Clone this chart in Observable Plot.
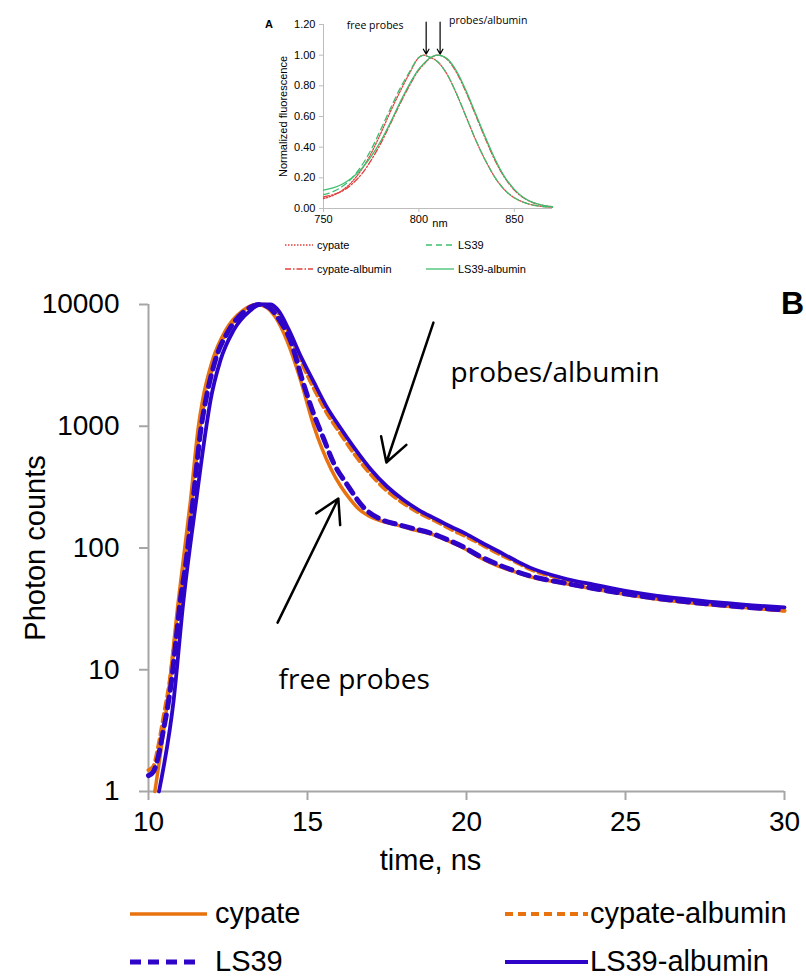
<!DOCTYPE html>
<html>
<head>
<meta charset="utf-8">
<script src="https://cdn.jsdelivr.net/npm/d3@7"></script>
<script src="https://cdn.jsdelivr.net/npm/@observablehq/plot@0.6"></script>
<style>
  body { margin: 0; background: #fff; }
  #wrap { position: relative; width: 806px; height: 977px; overflow: hidden; background: #fff; }
  #wrap > * { position: absolute; }
</style>
</head>
<body>
<div id="wrap"></div>
<script>
// ---------------- Panel B data (time, ns ; photon counts) ----------------
const timeTicks = [10, 15, 20, 25, 30];
const countTicks = [1, 10, 100, 1000, 10000];
const seriesNames = ["cypate", "cypate-albumin", "LS39", "LS39-albumin"];

const cypateT = [10.2, 10.6, 10.94, 11.32, 11.57, 11.7, 12.01, 12.42, 12.96, 13.4, 13.7, 14.0, 14.36, 14.78, 15.2, 15.45, 15.75, 16.05, 16.35, 16.6, 16.9, 17.3, 17.8, 18.3, 18.9, 19.4, 19.9, 20.4, 21.0, 21.5, 22.0, 23.0, 24.0, 25.0, 26.0, 27.0, 28.0, 29.0, 30.0];
const cypateC = [1, 5.6, 37, 245, 1000, 1630, 3470, 6100, 8900, 10000, 9500, 7800, 5000, 2400, 1000, 660, 440, 320, 250, 210, 185, 167, 155, 142, 130, 115, 100, 84, 71, 64, 58, 51.5, 46, 41.5, 38, 35.5, 33.5, 32, 30.5];

const cypAlbT = [10.0, 10.15, 10.3, 10.5, 10.65, 10.97, 11.36, 11.62, 11.76, 12.07, 12.48, 13.02, 13.45, 13.75, 14.1, 14.4, 14.8, 15.2, 15.6, 16.0, 16.5, 17.0, 17.5, 18.0, 18.5, 19.0, 19.5, 20.0, 20.5, 21.0, 21.5, 22.0, 23.0, 24.0, 25.0, 26.0, 27.0, 28.0, 29.0, 30.0];
const cypAlbC = [1.5, 1.6, 2.3, 4.5, 7.5, 37, 245, 1000, 1630, 3470, 6100, 8900, 10000, 9900, 8400, 6000, 3400, 2050, 1300, 900, 580, 400, 295, 235, 195, 168, 143, 124, 106, 90, 78, 67, 56, 49, 43.5, 40, 37, 34.5, 32.5, 30.5];

const ls39T = [10.0, 10.15, 10.3, 10.45, 10.6, 10.72, 10.86, 11.0, 11.16, 11.4, 11.66, 11.8, 12.1, 12.52, 13.05, 13.5, 13.8, 14.1, 14.47, 14.87, 15.2, 15.5, 15.82, 16.25, 16.76, 17.3, 17.8, 18.3, 18.9, 19.4, 19.9, 20.4, 21.0, 21.5, 22.0, 23.0, 24.0, 25.0, 26.0, 27.0, 28.0, 29.0, 30.0];
const ls39C = [1.35, 1.45, 1.9, 3, 4.9, 8, 17, 37, 70, 245, 1000, 1630, 3470, 6100, 8900, 10000, 9400, 7600, 5000, 2250, 1250, 800, 500, 330, 216, 172, 157, 145, 132, 117, 102, 86, 73, 65, 59, 52, 46.5, 42, 38.5, 36, 34, 32.3, 31];

const ls39AlbT = [10.33, 10.79, 11.1, 11.5, 11.82, 11.95, 12.26, 12.67, 13.2, 13.5, 13.85, 14.1, 14.4, 14.8, 15.2, 15.6, 16.0, 16.5, 17.0, 17.5, 18.0, 18.5, 19.0, 19.5, 20.0, 20.5, 21.0, 21.5, 22.0, 23.0, 24.0, 25.0, 26.0, 27.0, 28.0, 29.0, 30.0];
const ls39AlbC = [1, 5.6, 37, 245, 1000, 1630, 3470, 6100, 8900, 10000, 10000, 8800, 6300, 3700, 2300, 1450, 1000, 650, 440, 320, 250, 205, 175, 150, 130, 110, 94, 80, 69, 57, 50, 44.5, 40.5, 37.8, 35.5, 33.8, 32.5];

// annotations (data coordinates)
const annLabels = ["probes/albumin", "free probes"];
const annLabelT = [19.5, 14.09];
const annLabelC = [2760, 8.2];
const arrowT1 = [18.96, 14.06];
const arrowC1 = [7100, 24.4];
const arrowT2 = [17.48, 15.97];
const arrowC2 = [504, 255];

// ---------------- Panel A data (nm ; normalized fluorescence) ----------------
const nmTicks = [750, 800, 850];
const fluoTicks = [0, 0.2, 0.4, 0.6, 0.8, 1.0, 1.2];
const nm = [750, 755, 760, 765, 770, 775, 780, 785, 790, 795, 800, 802.5, 805, 810, 815, 820, 825, 830, 835, 840, 845, 850, 855, 860, 865, 870];
const specCypate    = [0.065, 0.085, 0.12, 0.175, 0.255, 0.36, 0.49, 0.63, 0.76, 0.88, 0.985, 1.0, 0.99, 0.955, 0.87, 0.74, 0.59, 0.44, 0.31, 0.20, 0.12, 0.07, 0.04, 0.022, 0.013, 0.008];
const specLS39      = [0.09, 0.11, 0.145, 0.20, 0.28, 0.385, 0.515, 0.65, 0.78, 0.89, 0.985, 1.0, 0.99, 0.955, 0.87, 0.74, 0.59, 0.44, 0.31, 0.20, 0.12, 0.07, 0.04, 0.022, 0.013, 0.008];
const specCypAlb    = [0.075, 0.09, 0.115, 0.16, 0.225, 0.315, 0.425, 0.55, 0.68, 0.80, 0.905, 0.94, 0.972, 1.0, 0.97, 0.88, 0.75, 0.60, 0.45, 0.31, 0.20, 0.12, 0.068, 0.037, 0.02, 0.011];
const specLS39Alb   = [0.12, 0.135, 0.16, 0.20, 0.26, 0.34, 0.44, 0.56, 0.69, 0.81, 0.91, 0.945, 0.975, 1.0, 0.975, 0.89, 0.76, 0.61, 0.46, 0.32, 0.205, 0.125, 0.07, 0.038, 0.021, 0.012];
const insetLabels = ["free probes", "probes/albumin"];
const insetLabelNm = [762.2, 815.8];
const insetLabelV = [1.19, 1.228];
const insetArrowNm = [803.8, 811.1];
const insetArrowV1 = [1.215, 1.215];
const insetArrowV2 = [1.007, 1.007];

// ---------------- styles ----------------
const ORANGE = "#E8720E", BLUE = "#2E05C8", GRAY = "#A6A6A6";
const RED = "#E2403E", GREEN = "#3DBE6E", LGRAY = "#BDBDBD";
const SANS = '"Liberation Sans", Arial, sans-serif';
const CAL = '"Open Sans", "Noto Sans", sans-serif';

const mainSeries = [
  {t: cypateT, c: cypateC, stroke: ORANGE, w: 3.5, dash: null},
  {t: cypAlbT, c: cypAlbC, stroke: ORANGE, w: 4, dash: "8,5"},
  {t: ls39T, c: ls39C, stroke: BLUE, w: 5, dash: "11,7"},
  {t: ls39AlbT, c: ls39AlbC, stroke: BLUE, w: 3.8, dash: null}
];

const wrap = document.getElementById("wrap");

const mainPlot = Plot.plot({
  width: 806, height: 610,
  marginLeft: 148, marginRight: 22, marginTop: 24, marginBottom: 99,
  x: {domain: [10, 30]},
  y: {type: "log", domain: [1, 10000]},
  style: {fontFamily: SANS, color: "black", background: "white", overflow: "visible"},
  marks: [
    Plot.ruleX([10], {stroke: GRAY, strokeWidth: 2}),
    Plot.ruleY([1], {stroke: GRAY, strokeWidth: 2}),
    Plot.axisY({ticks: countTicks, tickFormat: d => String(d), tickSize: 9, tickPadding: 20, stroke: GRAY, strokeWidth: 2, fill: "black", fontSize: 28, label: null}),
    Plot.axisX({ticks: timeTicks, tickFormat: d => String(d), tickSize: 9, tickPadding: 11, stroke: GRAY, strokeWidth: 2, fill: "black", fontSize: 28, label: null}),
    ...mainSeries.map(s => Plot.line(s.t.map((t, i) => ({t, c: s.c[i]})), {
      x: "t", y: "c", stroke: s.stroke, strokeWidth: s.w, strokeDasharray: s.dash, curve: "monotone-x"
    })),
    Plot.arrow(arrowT1, {x1: arrowT1, y1: arrowC1, x2: arrowT2, y2: arrowC2, stroke: "black", strokeWidth: 2.5, headLength: 16}),
    Plot.text(annLabels, {x: annLabelT, y: annLabelC, textAnchor: "start", fontFamily: CAL, fontSize: 28, fill: "black"}),
    Plot.text(["Photon counts"], {frameAnchor: "left", rotate: -90, dx: -113, textAnchor: "middle", fontSize: 29, fill: "black"}),
    Plot.text(["time, ns"], {frameAnchor: "bottom", dx: -36, dy: 78, textAnchor: "middle", fontSize: 29, fill: "black"})
  ]
});
mainPlot.style.left = "0px";
mainPlot.style.top = "280px";
wrap.appendChild(mainPlot);

const insetSeries = [
  {v: specCypate, stroke: RED, w: 1.3, dash: "1.5,1.5"},
  {v: specCypAlb, stroke: RED, w: 1.3, dash: "6,2,1.5,2"},
  {v: specLS39, stroke: GREEN, w: 1.3, dash: "6,4"},
  {v: specLS39Alb, stroke: GREEN, w: 1.3, dash: null}
];

const insetPlot = Plot.plot({
  width: 320, height: 235,
  marginLeft: 73, marginRight: 18, marginTop: 24, marginBottom: 27,
  x: {domain: [750, 870]},
  y: {domain: [0, 1.2]},
  style: {fontFamily: SANS, color: "black", background: "transparent", overflow: "visible"},
  marks: [
    Plot.ruleX([750], {stroke: LGRAY, strokeWidth: 1}),
    Plot.ruleY([0], {stroke: LGRAY, strokeWidth: 1}),
    Plot.axisY({ticks: fluoTicks, tickFormat: d => d.toFixed(2), tickSize: 4, tickPadding: 4, stroke: LGRAY, fill: "black", fontSize: 11, label: null}),
    Plot.axisX({ticks: nmTicks, tickFormat: d => String(d), tickSize: 4, tickPadding: 3, stroke: LGRAY, fill: "black", fontSize: 11, label: null}),
    ...insetSeries.map(s => Plot.line(nm.map((n, i) => ({n, v: s.v[i]})), {
      x: "n", y: "v", stroke: s.stroke, strokeWidth: s.w, strokeDasharray: s.dash, curve: "monotone-x"
    })),
    Plot.arrow(insetArrowNm, {x1: insetArrowNm, y1: insetArrowV1, x2: insetArrowNm, y2: insetArrowV2, stroke: "black", strokeWidth: 1.2, headLength: 7}),
    Plot.text(insetLabels, {x: insetLabelNm, y: insetLabelV, textAnchor: "start", fontFamily: CAL, fontSize: 10.5, fill: "black"}),
    Plot.text(["Normalized fluorescence"], {frameAnchor: "left", rotate: -90, dx: -40, textAnchor: "middle", fontSize: 11, fill: "black"}),
    Plot.text(["nm"], {frameAnchor: "bottom", dx: 2, dy: 18, textAnchor: "middle", fontSize: 11, fill: "black"})
  ]
});
insetPlot.style.left = "250px";
insetPlot.style.top = "0px";
wrap.appendChild(insetPlot);

// ---------------- overlay: panel letters + legends ----------------
const ov = d3.create("svg").attr("width", 806).attr("height", 977)
  .style("left", "0px").style("top", "0px").style("pointer-events", "none")
  .attr("font-family", SANS);

ov.append("text").attr("x", 265).attr("y", 28).attr("font-size", 11).attr("font-weight", "bold").text("A");
ov.append("text").attr("x", 781).attr("y", 314).attr("font-size", 32).attr("font-weight", "bold").text("B");

// inset legend
const insetLegend = [
  {x: 285, y: 245, label: "cypate", s: insetSeries[0]},
  {x: 426, y: 245, label: "LS39", s: insetSeries[2]},
  {x: 285, y: 269, label: "cypate-albumin", s: insetSeries[1]},
  {x: 426, y: 269, label: "LS39-albumin", s: insetSeries[3]}
];
insetLegend.forEach(d => {
  ov.append("line").attr("x1", d.x).attr("x2", d.x + 28).attr("y1", d.y).attr("y2", d.y)
    .attr("stroke", d.s.stroke).attr("stroke-width", d.s.w).attr("stroke-dasharray", d.s.dash);
  ov.append("text").attr("x", d.x + 32).attr("y", d.y + 4).attr("font-size", 11).text(d.label);
});

// main legend
const mainLegend = [
  {x: 130, len: 77, y: 914, label: "cypate", s: mainSeries[0]},
  {x: 505, len: 83, y: 914, label: "cypate-albumin", s: mainSeries[1]},
  {x: 130, len: 67, y: 962, label: "LS39", s: mainSeries[2]},
  {x: 505, len: 83, y: 962, label: "LS39-albumin", s: mainSeries[3]}
];
mainLegend.forEach(d => {
  ov.append("line").attr("x1", d.x).attr("x2", d.x + d.len).attr("y1", d.y).attr("y2", d.y)
    .attr("stroke", d.s.stroke).attr("stroke-width", d.s.w).attr("stroke-dasharray", d.s.dash);
  ov.append("text").attr("x", d.x < 300 ? 215 : 590).attr("y", d.y + 9).attr("font-size", 29).text(d.label);
});
wrap.appendChild(ov.node());
</script>
</body>
</html>
